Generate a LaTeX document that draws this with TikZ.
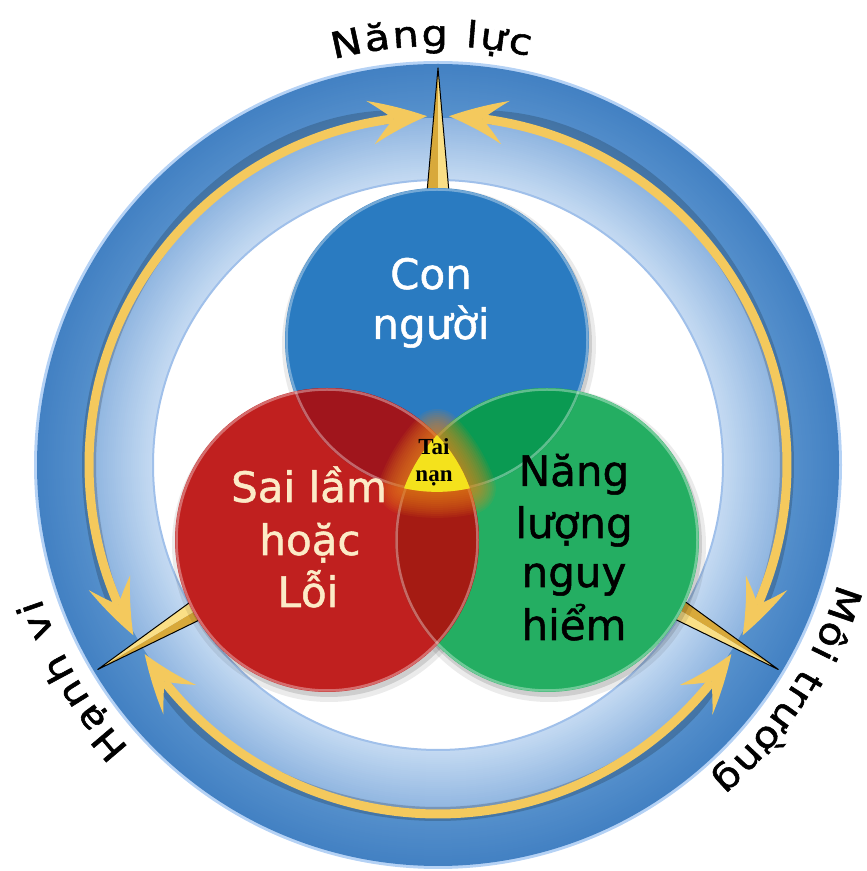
\documentclass[tikz,border=0pt]{standalone}
\usepackage{fontspec}
\setmainfont{DejaVu Sans}[FakeBold=1.2]
\newfontfamily\taiserif{Liberation Serif}
\newfontfamily\lblfam{DejaVu Sans}[FakeBold=1.5,FakeStretch=1.15]
\usetikzlibrary{arrows.meta,bending,decorations.text,calc}
\definecolor{ringHalo}{HTML}{B5D2F5}
\definecolor{ringOutA}{HTML}{4381C3}
\definecolor{ringOutB}{HTML}{5590CC}
\definecolor{ringInA}{HTML}{8FB5E0}
\definecolor{ringInB}{HTML}{C4DAF2}
\definecolor{ringEdge}{HTML}{A0C0EA}
\definecolor{gold}{HTML}{F4C95D}
\definecolor{goldDark}{HTML}{D8A93A}
\definecolor{goldLight}{HTML}{FADF86}
\definecolor{cBlue}{HTML}{2A7BC1}
\definecolor{cRed}{HTML}{C0201F}
\definecolor{cGreen}{HTML}{24AE62}
\definecolor{cBR}{HTML}{A0151C}
\definecolor{cBG}{HTML}{0A9A52}
\definecolor{cRG}{HTML}{A51B13}
\definecolor{cream}{HTML}{FCEBC7}
\definecolor{tyellow}{HTML}{F4E21C}
\definecolor{glowOrange}{HTML}{E8861A}
\newcommand\lblfont{\lblfam\fontsize{36}{44}\selectfont}
\newcommand\bigfont{\fontsize{42}{50}\selectfont}
\newcommand\taifont{\taiserif\bfseries\fontsize{23}{27}\selectfont}
\tikzset{
  arrowtip/.tip={Stealth[length=58pt,width=44pt,inset=24pt,line width=0pt,bend]},
  flow/.style={draw=gold, line width=9pt, arrowtip-arrowtip,
    preaction={draw=black, opacity=.18, line width=14pt, -, shorten <=40pt, shorten >=40pt}},
  bigtext/.style={anchor=base, font=\bigfont, inner sep=0pt},
  taitext/.style={anchor=base, font=\taifont, inner sep=0pt, text=black},
  circrim/.style={draw=white, opacity=.35, line width=2.5pt},
  ringlabel/.style={decorate, decoration={text along path, text align={fit to path}}}
}
\begin{document}
\begin{tikzpicture}[x=1pt,y=1pt]
\useasboundingbox (0,0) rectangle (867,871);
\coordinate (C) at (438,406);
\coordinate (B) at (437,531);
\coordinate (R) at (327,331);
\coordinate (G) at (547,331);
% ring
\fill[ringHalo] (C) circle[radius=404pt];
\foreach \i in {0,...,24}{
  \pgfmathsetmacro\rr{401-\i*2}
  \pgfmathtruncatemacro\p{100*\i/24}
  \fill[ringOutB!\p!ringOutA] (C) circle[radius=\rr pt];
}
\foreach \i in {0,...,30}{
  \pgfmathsetmacro\rr{347-\i*2}
  \pgfmathtruncatemacro\p{100*\i/30}
  \fill[ringInB!\p!ringInA] (C) circle[radius=\rr pt];
}
\fill[white] (C) circle[radius=284.5pt];
\draw[ringEdge, line width=2pt] (C) circle[radius=285pt];
% arrows
\coordinate (a1) at ($(C)+(91.8:349pt)$);
\coordinate (a2) at ($(C)+(88.2:349pt)$);
\coordinate (a3) at ($(C)+(212.8:349pt)$);
\draw[flow] (a1) arc[start angle=91.8, end angle=209.2, radius=349pt];
\draw[flow] (a2) arc[start angle=88.2, end angle=-29.2, radius=349pt];
\draw[flow] (a3) arc[start angle=212.8, end angle=327.2, radius=349pt];
% needles
\foreach \a in {90,211,329}{
  \begin{scope}[shift={(C)}, rotate=\a-90]
    \fill[goldDark] (0,250) -- (0,397) -- (-13,250) -- cycle;
    \fill[goldLight] (0,250) -- (0,397) -- (13,250) -- cycle;
    \draw[black, line width=1pt, line join=round] (-13,250) -- (0,397) -- (13,250);
  \end{scope}
}
% circle shadows
\foreach \P in {B,G,R}{
  \fill[black, opacity=.08] ($(\P)+(2pt,-5pt)$) circle[radius=157pt];
  \fill[black, opacity=.12] ($(\P)+(2pt,-4pt)$) circle[radius=153pt];
}
% circles
\fill[cBlue] (B) circle[radius=152pt];
\fill[cGreen] (G) circle[radius=152pt];
\fill[cRed] (R) circle[radius=152pt];
\begin{scope}
  \clip (B) circle[radius=152pt];
  \fill[cBR] (R) circle[radius=152pt];
  \fill[cBG] (G) circle[radius=152pt];
\end{scope}
\begin{scope}
  \clip (R) circle[radius=152pt];
  \fill[cRG] (G) circle[radius=152pt];
\end{scope}
\draw[circrim] (B) circle[radius=150.5pt];
\draw[circrim] (G) circle[radius=150.5pt];
\draw[circrim] (R) circle[radius=150.5pt];
% accident zone
\coordinate (P1) at ($(G)+(136.4:152pt)$);
\foreach \w in {52,48,...,4}{
  \draw[glowOrange, opacity=.09, line width=\w pt, line join=round]
    (P1) arc[start angle=136.4, end angle=160.1, radius=152pt]
    arc[start angle=257.5, end angle=282.5, radius=152pt]
    arc[start angle=19.85, end angle=43.6, radius=152pt] -- cycle;
}
\fill[tyellow]
    (P1) arc[start angle=136.4, end angle=160.1, radius=152pt]
    arc[start angle=257.5, end angle=282.5, radius=152pt]
    arc[start angle=19.85, end angle=43.6, radius=152pt] -- cycle;
% texts
\node[bigtext, text=white] (con) at (431,582) {Con};
\node[bigtext, text=white] (nguoi) at (431,532) {người};
\node[bigtext, text=cream] (sai) at (309,369) {Sai lầm};
\node[bigtext, text=cream] (hoac) at (310,316) {hoặc};
\node[bigtext, text=cream] (loi) at (308,264) {Lỗi};
\node[bigtext, text=black] (nang) at (574,385) {Năng};
\node[bigtext, text=black] (luong) at (574,333) {lượng};
\node[bigtext, text=black] (nguy) at (574,284) {nguy};
\node[bigtext, text=black] (hiem) at (574,231) {hiểm};
\node[taitext] (tai) at (434,416) {Tai};
\node[taitext] (nan) at (434,389) {nạn};
% ring labels
\path[ringlabel, decoration={text={|\lblfont|Năng lực}}]
  ($(C)+(104.4:419pt)$) arc[start angle=104.4, end angle=77.4, radius=419pt];
\path[ringlabel, decoration={text={|\lblfont|Hạnh vi}}]
  ($(C)+(222.5:419pt)$) arc[start angle=222.5, end angle=198.5, radius=419pt];
\path[ringlabel, decoration={text={|\lblfont|Môi trường}}]
  ($(C)+(343.5:417pt)$) arc[start angle=343.5, end angle=311, radius=417pt];
\end{tikzpicture}
\end{document}
